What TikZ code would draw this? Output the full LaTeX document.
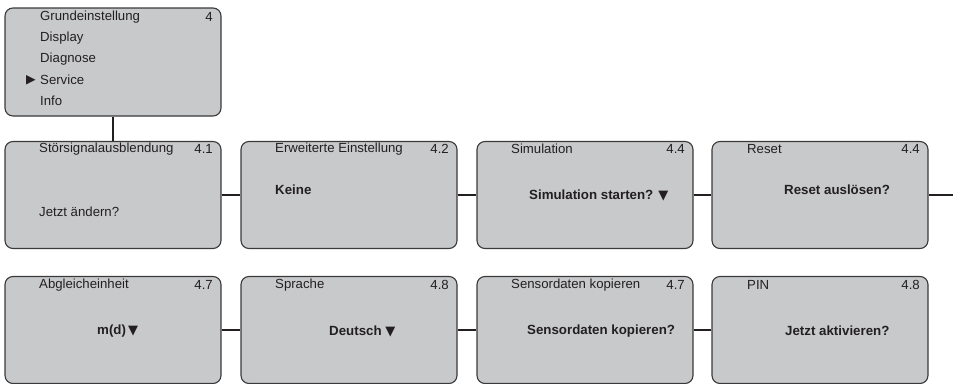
\documentclass[tikz,border=0pt]{standalone}
\usepackage{fontspec}
\setmainfont{Liberation Sans}
\newfontfamily\symfont{DejaVu Sans}
\usepackage{tikz}
\definecolor{panel}{HTML}{C8C9CB}
\definecolor{rim}{HTML}{3A3A3A}
\definecolor{ink}{HTML}{231F20}
\newcommand{\tri}{{\symfont\fontsize{13}{15}\selectfont▼}}
\tikzset{
  screen/.style={draw=rim, fill=panel, line width=1.1pt, rounded corners=8pt,
    minimum width=216pt, minimum height=107pt, inner sep=0pt},
  caption/.style={anchor=west, inner sep=0pt, text=ink, font=\fontsize{13.2}{15}\selectfont},
  num/.style={anchor=east, inner sep=0pt, text=ink, font=\fontsize{13.2}{15}\selectfont},
  answer/.style={anchor=west, inner sep=0pt, text=ink, font=\fontsize{13.3}{15}\selectfont\bfseries},
  link/.style={draw=ink, line width=2.6pt}
}
\begin{document}
\begin{tikzpicture}[x=1pt,y=-1pt]
      \useasboundingbox (0,0) rectangle (953,383);

      % menu
      \node[screen, minimum height=108pt] (menu) at (113,62) {};
      \node[caption] (m1) at (40,17) {Grundeinstellung};
      \node[num] (m0) at (213,17) {4};
      \node[caption] (m2) at (40,38) {Display};
      \node[caption] (m3) at (40,59) {Diagnose};
      \node[caption] (m4) at (40,80) {Service};
      \node[anchor=east, inner sep=0pt, text=ink, font=\symfont\fontsize{12.5}{14}\selectfont] (sel) at (36,80) {▶};
      \node[caption] (m5) at (40,101) {Info};

      % first row
      \node[screen] (s41) at (113,195) {};
      \node[screen] (s42) at (349,195) {};
      \node[screen] (s44) at (585,195) {};
      \node[screen] (s44r) at (820,195) {};

      \node[caption] (t41) at (39,149) {Störsignalausblendung};
      \node[num] (n41) at (213,149) {4.1};
      \node[caption] (b41) at (39,212) {Jetzt ändern?};

      \node[caption] (t42) at (275,149) {Erweiterte Einstellung};
      \node[num] (n42) at (449,149) {4.2};
      \node[answer] (b42) at (275,190) {Keine};

      \node[caption] (t44) at (511,149) {Simulation};
      \node[num] (n44) at (685,149) {4.4};
      \node[answer] (b44) at (529,195) {Simulation starten? \tri};

      \node[caption] (t44r) at (747,149) {Reset};
      \node[num] (n44r) at (920,149) {4.4};
      \node[answer] (b44r) at (784,190) {Reset auslösen?};

      % second row
      \node[screen] (s47) at (113,330) {};
      \node[screen] (s48) at (349,330) {};
      \node[screen] (s47k) at (585,330) {};
      \node[screen] (s48p) at (820,330) {};

      \node[caption] (t47) at (39,285) {Abgleicheinheit};
      \node[num] (n47) at (213,285) {4.7};
      \node[answer] (b47) at (97,331) {m(d)\,\tri};

      \node[caption] (t48) at (275,285) {Sprache};
      \node[num] (n48) at (449,285) {4.8};
      \node[answer] (b48) at (329,331) {Deutsch \tri};

      \node[caption] (t47k) at (511,285) {Sensordaten kopieren};
      \node[num] (n47k) at (685,285) {4.7};
      \node[answer] (b47k) at (527,331) {Sensordaten kopieren?};

      \node[caption] (t48p) at (747,285) {PIN};
      \node[num] (n48p) at (920,285) {4.8};
      \node[answer] (b48p) at (785,331) {Jetzt aktivieren?};

      \coordinate (out) at (953,195);

      \draw[link] (menu.south) -- (s41.north);
      \draw[link] (s41.east) -- (s42.west);
      \draw[link] (s42.east) -- (s44.west);
      \draw[link] (s44.east) -- (s44r.west);
      \draw[link] (s44r.east) -- (out);
      \draw[link] (s47.east) -- (s48.west);
      \draw[link] (s48.east) -- (s47k.west);
      \draw[link] (s47k.east) -- (s48p.west);
\end{tikzpicture}
\end{document}
